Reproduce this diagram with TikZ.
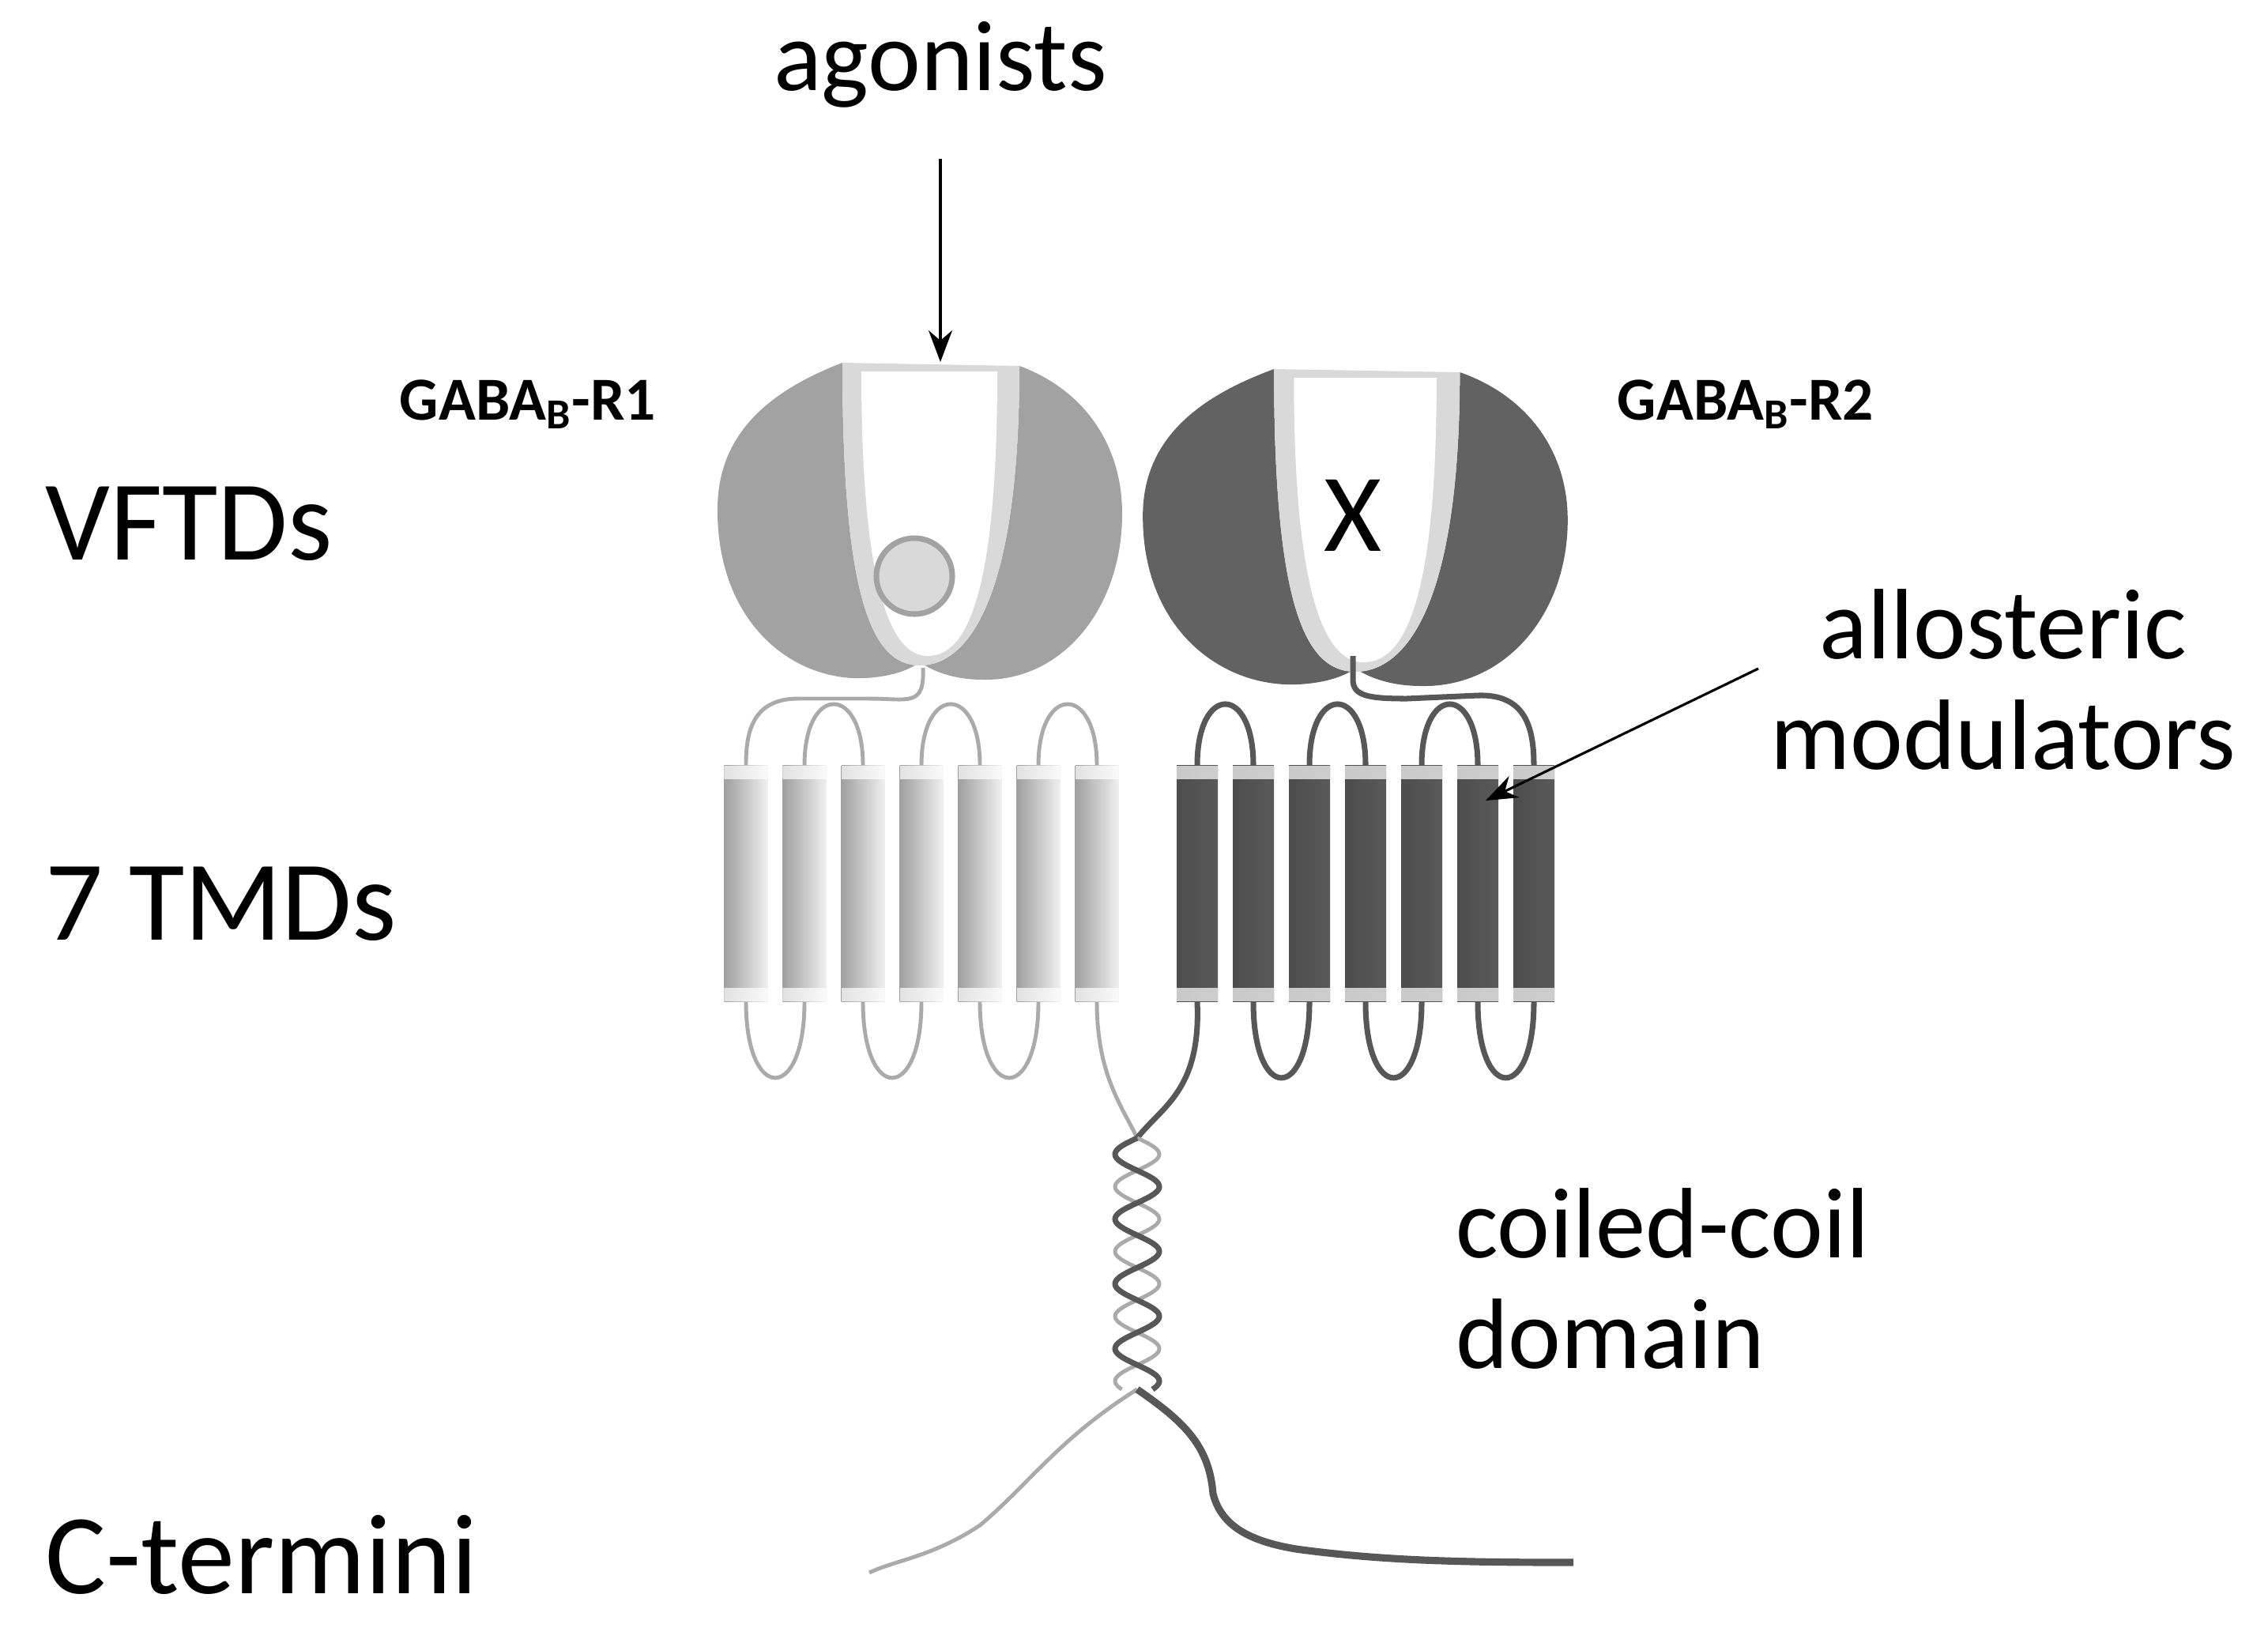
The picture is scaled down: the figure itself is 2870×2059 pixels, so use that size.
\documentclass[tikz,border=0pt]{standalone}
\usepackage{fontspec}
\setmainfont{Carlito}
\usetikzlibrary{arrows.meta}
\definecolor{lobeA}{HTML}{A2A2A2}
\definecolor{lobeB}{HTML}{626262}
\definecolor{rimgray}{HTML}{D9D9D9}
\definecolor{loopA}{HTML}{AAAAAA}
\definecolor{loopB}{HTML}{575757}
\tikzset{
  lab/.style={font=\fontsize{36}{40}\selectfont},
  biglab/.style={font=\fontsize{41}{46}\selectfont},
  gaba/.style={font=\bfseries\fontsize{22}{26}\selectfont},
  pointer/.style={line width=0.9pt,-{Stealth[length=0.4cm,width=0.3cm]}},
  lineA/.style={loopA,line width=1.4pt},
  lineB/.style={loopB,line width=2pt},
  caps/.style={path picture={
      \fill[white,opacity=.7] (path picture bounding box.north west) rectangle ([yshift=-0.17cm]path picture bounding box.north east);
      \fill[white,opacity=.7] (path picture bounding box.south west) rectangle ([yshift=0.17cm]path picture bounding box.south east);}},
  helixA/.style={caps,minimum width=0.55cm,minimum height=2.98cm,inner sep=0pt,
      shading=axis,left color=gray!75,right color=gray!12,shading angle=90},
  helixB/.style={caps,minimum width=0.52cm,minimum height=2.98cm,inner sep=0pt,
      shading=axis,left color=black!70,middle color=gray!40,right color=black!65,shading angle=90},
  pics/vft/.style={code={
      \fill[#1] (-98,459) .. controls (-205,500) and (-258,560) .. (-256,650)
        .. controls (-254,790) and (-160,862) .. (-70,858)
        .. controls (-30,856) and (-10,845) .. (0,838)
        .. controls (15,848) and (40,860) .. (80,860)
        .. controls (180,862) and (256,770) .. (256,650)
        .. controls (256,560) and (205,492) .. (126,463)
        .. controls (126,760) and (60,842) .. (0,842)
        .. controls (-60,842) and (-98,760) .. (-98,459) -- cycle;
      \fill[rimgray] (126,463) .. controls (126,760) and (60,842) .. (0,842)
        .. controls (-60,842) and (-98,760) .. (-98,459) -- cycle;
      \fill[white] (-74,470) .. controls (-74,750) and (-35,830) .. (10,830)
        .. controls (60,830) and (98,750) .. (98,470) -- cycle;
  }}
}
\begin{document}
\begin{tikzpicture}[x=0.01cm,y=-0.01cm]
  \useasboundingbox (0,0) rectangle (2870,2059);
  % extracellular domains
  \pic at (1164,0) {vft=lobeA};
  \pic[xscale=1.05] at (1715,8) {vft=lobeB};
  \node[circle,draw=lobeA,line width=2pt,fill=rimgray,minimum size=0.96cm] (ligand) at (1157,729) {};
  \node[font=\fontsize{40}{44}\selectfont] (nolig) at (1712,652) {X};
  \coordinate (stemA) at (1168,845);
  \coordinate (stemB) at (1712,830);
  % helices
  \foreach \i in {1,...,7} {
    \node[helixA] (r1h\i) at ({944+74*(\i-1)},1118) {};
    \node[helixB] (r2h\i) at ({1515+71*(\i-1)},1118) {};
  }
  % loops
  \foreach \a/\b in {2/3,4/5,6/7}
    \draw[lineA] (r1h\a.north) .. controls +(0,1.03cm) and +(0,1.03cm) .. (r1h\b.north);
  \foreach \a/\b in {1/2,3/4,5/6}
    \draw[lineA] (r1h\a.south) .. controls +(0,-1.28cm) and +(0,-1.28cm) .. (r1h\b.south);
  \foreach \a/\b in {1/2,3/4,5/6}
    \draw[lineB] (r2h\a.north) .. controls +(0,1.03cm) and +(0,1.03cm) .. (r2h\b.north);
  \foreach \a/\b in {2/3,4/5,6/7}
    \draw[lineB] (r2h\a.south) .. controls +(0,-1.28cm) and +(0,-1.28cm) .. (r2h\b.south);
  \draw[lineA] (stemA) .. controls (1170,895) and (1150,884) .. (1100,884) -- (1010,884)
    .. controls (950,884) and (944,930) .. (r1h1.north);
  \draw[lineB] (stemB) -- (1712,860) .. controls (1712,880) and (1730,884) .. (1780,884) -- (1870,880)
    .. controls (1930,878) and (1941,920) .. (r2h7.north);
  % coiled coil
  \coordinate (coilA) at (1439,1440);
  \coordinate (cross) at (1439,1758);
  \draw[lineA] (r1h7.south) .. controls (1388,1360) and (1420,1400) .. (coilA);
  \draw[lineB] (r2h1.south) .. controls (1520,1380) and (1470,1400) .. (coilA);
  \draw[lineA] plot[domain=1440:1758,samples=150] ({1439+28*sin((\x-1440)*4.39)},\x);
  \draw[lineB] plot[domain=1440:1758,samples=150] ({1439-28*sin((\x-1440)*4.39)},\x);
  \draw[lineA] (cross) .. controls (1340,1820) and (1300,1880) .. (1240,1930)
    .. controls (1180,1970) and (1130,1975) .. (1100,1990);
  \draw[loopB,line width=2.6pt] (cross) .. controls (1500,1800) and (1530,1830) .. (1535,1890)
    .. controls (1545,1930) and (1580,1950) .. (1640,1960) .. controls (1750,1975) and (1850,1977) .. (1991,1977);
  % labels
  \node[lab] (agon) at (1190,82) {agonists};
  \coordinate (agtip) at (1190,458);
  \draw[pointer] (1190,201) -- (agtip);
  \node[gaba] (gabaA) at (668,512) {GABA\textsubscript{B}-R1};
  \node[gaba] (gabaB) at (2209,512) {GABA\textsubscript{B}-R2};
  \node[biglab,anchor=west] (vftd) at (45,663) {VFTDs};
  \node[biglab,anchor=west] (tmd) at (45,1144) {7 TMDs};
  \node[biglab,anchor=west] (cterm) at (45,1967) {C-termini};
  \node[lab,align=center] (allo) at (2535,860) {allosteric\\modulators};
  \coordinate (allotip) at (1880,1013);
  \draw[pointer] (2225,846) -- (allotip);
  \node[lab,align=left,anchor=west] (coil) at (1830,1618) {coiled-coil\\domain};
\end{tikzpicture}
\end{document}
